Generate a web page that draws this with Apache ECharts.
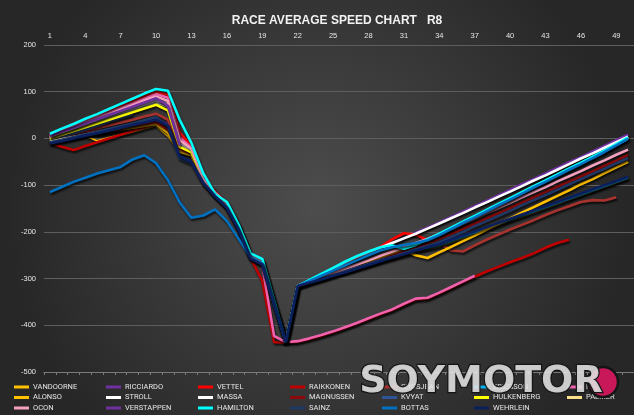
<!DOCTYPE html>
<html><head><meta charset="utf-8">
<script src="https://cdn.jsdelivr.net/npm/echarts@6/dist/echarts.min.js"></script>
<style>html,body{margin:0;padding:0;background:#333;}#c{width:634px;height:415px;}</style>
</head><body><div id="c"></div>
<script>
const laps = ['1','2','3','4','5','6','7','8','9','10','11','12','13','14','15','16','17','18','19','20','21','22','23','24','25','26','27','28','29','30','31','32','33','34','35','36','37','38','39','40','41','42','43','44','45','46','47','48','49','50'];
const yTicks = [-500, 200, 100];

const vandoorne = [-2,3,7,5,-5,2,8,14,21,27,5,-30,-38,-94,-123,-148,-194,-256,-269,-355,-436,-316,-309,-302,-294,-287,-280,-273,-265,-258,-251,-244,-237,-232,-223,-214,-205,-196,-187,-177,-168,-159,-150,-141,-131,-122,-113,-104,-95,-86];
const ricciardo = [2,8,14,19,8,12,19,27,35,42,30,-20,-35,-91,-120,-145,-192,-253,-266,-352,-436,-316,-305,-293,-281,-269,-257,-246,-235,-224,-213,-202,-191,-180,-168,-157,-145,-134,-122,-110,-98,-87,-75,-63,-51,-40,-28,-16,-4,8];
const vettel = [8,18,28,38,48,59,69,79,90,100,94,12,-16,-84,-114,-139,-186,-248,-262,-352,-436,-316,-305,-293,-281,-269,-257,-245,-232,-216,-203,-206,-218,-206,-193,-180,-168,-155,-142,-130,-117,-104,-92,-79,-66,-54,-41,-28,-14,0];
const raikkonen = [-10,-18,-25,-16,-8,0,8,16,24,32,16,-26,-36,-92,-122,-147,-194,-255,-305,-436,-437,-436,-430,-423,-415,-406,-397,-387,-377,-368,-356,-345,-343,-332,-320,-308,-296,-285,-275,-265,-256,-246,-234,-224,-217,null,null,null,null,null];
const grosjean = [-3,3,9,15,22,28,34,40,47,53,40,-15,-26,-89,-118,-143,-190,-251,-265,-352,-436,-316,-308,-300,-292,-284,-276,-268,-260,-252,-244,-237,-230,-224,-240,-242,-229,-217,-206,-195,-185,-175,-164,-154,-145,-136,-132,-133,-126,null];
const ericsson = [-9,-4,1,7,12,17,22,28,33,38,22,-25,-30,-90,-120,-145,-192,-253,-267,-353,-436,-316,-309,-301,-293,-286,-278,-270,-262,-255,-247,-240,-234,-228,-219,-210,-201,-192,-183,-174,-165,-156,-147,-138,-129,-120,-111,-102,-93,-84];
const perez = [6,16,26,36,46,55,65,75,85,95,87,2,-20,-86,-117,-141,-188,-250,-272,-423,-436,-434,-428,-421,-413,-404,-395,-385,-375,-366,-354,-343,-341,-330,-318,-306,-294,null,null,null,null,null,null,null,null,null,null,null,null,null];
const alonso = [-4,0,4,8,12,15,19,23,27,31,12,-28,-36,-93,-122,-147,-193,-255,-268,-354,-436,-316,-308,-300,-292,-284,-275,-266,-257,-248,-240,-250,-256,-244,-232,-220,-208,-195,-183,-171,-159,-147,-135,-123,-111,-98,-87,-74,-62,-50];
const stroll = [-1,8,17,26,35,43,52,61,70,78,68,-12,-28,-89,-119,-143,-191,-252,-265,-351,-436,-316,-305,-292,-279,-266,-254,-244,-234,-224,-214,-204,-193,-182,-171,-160,-148,-137,-125,-114,-102,-90,-79,-67,-55,-43,-32,-20,-8,4];
const massa = [2,11,20,29,38,47,56,64,73,82,74,-8,-25,-88,-118,-142,-190,-251,-264,-350,-436,-316,-306,-296,null,null,null,null,null,null,null,null,null,null,null,null,null,null,null,null,null,null,null,null,null,null,null,null,null,null];
const magnussen = [-6,0,5,10,14,18,23,27,31,35,20,-22,-32,-92,-121,-146,-193,-254,-267,-353,-436,-316,-308,-300,-292,-284,-276,-268,-260,-251,-242,-234,-225,-215,-204,-193,-182,-171,-160,-149,-137,-126,-114,-103,-92,-81,-70,-58,-47,-35];
const kvyat = [-5,3,11,19,27,36,44,52,null,null,null,null,null,null,null,null,null,null,null,null,null,null,null,null,null,null,null,null,null,null,null,null,null,null,null,null,null,null,null,null,null,null,null,null,null,null,null,null,null,null];
const hulkenberg = [0,8,16,24,32,40,48,56,64,72,60,-18,-30,-90,-121,-144,-191,-252,-266,-352,-436,-316,-308,null,null,null,null,null,null,null,null,null,null,null,null,null,null,null,null,null,null,null,null,null,null,null,null,null,null,null];
const palmer = [-7,-2,3,8,13,18,23,null,null,null,null,null,null,null,null,null,null,null,null,null,null,null,null,null,null,null,null,null,null,null,null,null,null,null,null,null,null,null,null,null,null,null,null,null,null,null,null,null,null,null];
const ocon = [4,14,23,33,42,52,62,71,81,90,80,-4,-22,-87,-116,-140,-188,-250,-264,-352,-436,-316,-307,-298,-289,-279,-270,-261,-251,-242,-233,-224,-215,-205,-194,-183,-172,-160,-149,-138,-126,-115,-104,-92,-81,-70,-58,-47,-35,-24];
const verstappen = [5,14,23,32,41,50,59,68,77,86,70,-15,null,null,null,null,null,null,null,null,null,null,null,null,null,null,null,null,null,null,null,null,null,null,null,null,null,null,null,null,null,null,null,null,null,null,null,null,null,null];
const hamilton = [10,21,31,42,52,63,74,85,96,106,102,40,-10,-75,-119,-136,-185,-246,-258,-347,-436,-316,-303,-290,-277,-264,-252,-242,-233,-229,-236,-228,-216,-204,-191,-178,-166,-153,-140,-128,-115,-102,-90,-77,-64,-52,-39,-26,-12,2];
const sainz = [-8,-3,3,9,14,20,26,32,39,46,25,-43,-54,-96,-124,-148,-195,-256,-268,-355,-436,-316,-308,-300,-293,-285,-277,-269,-261,-254,-246,-238,-230,-222,-211,-200,-188,-177,-166,-155,-143,-132,-121,-110,-98,-87,-76,-65,-53,-42];
const bottas = [-115,-104,-93,-84,-75,-68,-61,-45,-36,-53,-89,-137,-170,-165,-152,-177,-215,-254,-268,-354,-436,-316,-305,-294,-283,-272,-261,-250,-240,-233,-228,-224,-218,-207,-194,-181,-169,-156,-143,-131,-118,-105,-93,-80,-67,-55,-42,-29,-15,-1];
const wehrlein = [-11,-6,0,6,11,17,23,29,34,40,28,-38,-50,-95,-124,-149,-196,-257,-270,-356,-436,-316,-309,-302,-294,-287,-279,-271,-263,-255,-248,-240,-233,-226,-217,-208,-199,-190,-181,-172,-163,-154,-145,-136,-127,-118,-109,-100,-91,-82];

const drivers = [
  ['VANDOORNE', vandoorne, '#FFC000', 1.6],
  ['RICCIARDO', ricciardo, '#7030A0', 2.6],
  ['VETTEL', vettel, '#FF0000', 2.6],
  ['RAIKKONEN', raikkonen, '#C00000', 2.6],
  ['GROSJEAN', grosjean, '#A8322E', 2.6],
  ['ERICSSON', ericsson, '#00B0F0', 2.6],
  ['PEREZ', perez, '#F062AE', 2.6],
  ['ALONSO', alonso, '#FFC000', 2.6],
  ['STROLL', stroll, '#FFFFFF', 2.6],
  ['MASSA', massa, '#FFFFFF', 2.6],
  ['MAGNUSSEN', magnussen, '#8E0A0A', 2.6],
  ['KVYAT', kvyat, '#2F5597', 2.6],
  ['HULKENBERG', hulkenberg, '#FFFF00', 2.6],
  ['PALMER', palmer, '#FFE08A', 2.6],
  ['OCON', ocon, '#F7A1C0', 2.6],
  ['VERSTAPPEN', verstappen, '#7030A0', 2.6],
  ['HAMILTON', hamilton, '#00FFFF', 2.6],
  ['SAINZ', sainz, '#203864', 2.6],
  ['BOTTAS', bottas, '#0070C0', 2.6],
  ['WEHRLEIN', wehrlein, '#0A1F5C', 2.6]
];

const series = drivers.map(d => ({
  name: d[0], type: 'line', data: d[1], xAxisIndex: 0, yAxisIndex: 0,
  showSymbol: false, symbol: 'none', connectNulls: false,
  lineStyle: { color: d[2], width: d[3], shadowColor: 'rgba(0,0,0,0.75)', shadowBlur: 2, shadowOffsetX: 1, shadowOffsetY: 2 },
  itemStyle: { color: d[2] },
  emphasis: { disabled: true }, animation: false
}));

const cols = [
  ['VANDOORNE','ALONSO','OCON'],
  ['RICCIARDO','STROLL','VERSTAPPEN'],
  ['VETTEL','MASSA','HAMILTON'],
  ['RAIKKONEN','MAGNUSSEN','SAINZ'],
  ['GROSJEAN','KVYAT','BOTTAS'],
  ['ERICSSON','HULKENBERG','WEHRLEIN'],
  ['PEREZ','PALMER']
];
const colX = [14, 106, 198, 290, 382, 474, 567];
const legends = cols.map((c, i) => ({
  data: c, orient: 'vertical', left: colX[i], top: 382, height: 40, padding: 0, itemGap: 0.5,
  itemWidth: 15, itemHeight: 3, icon: 'rect', selectedMode: false,
  textStyle: { color: '#e6e6e6', fontSize: 7.5, fontFamily: 'Roboto', padding: [0,0,0,-1], lineHeight: 10 }
}));

const chart = echarts.init(document.getElementById('c'), null, { renderer: 'canvas' });
chart.setOption({
  animation: false,
  backgroundColor: { type: 'radial', x: 0.5, y: 0.5, r: 0.75,
    colorStops: [{ offset: 0, color: '#4d4d4d' }, { offset: 1, color: '#272727' }] },
  title: { text: 'RACE AVERAGE SPEED CHART   R8', left: 332, textAlign: 'center', top: 10,
    textStyle: { color: '#f2f2f2', fontSize: 12, fontWeight: 'bold', fontFamily: 'Liberation Sans' } },
  legend: legends,
  grid: { left: 44, right: 0, top: 45, bottom: 43, containLabel: false },
  xAxis: [
    { type: 'category', data: laps, position: 'top', boundaryGap: true,
      axisLine: { show: false }, axisTick: { show: false }, splitLine: { show: false },
      axisLabel: { interval: 2, color: '#e6e6e6', fontSize: 7.5, fontFamily: 'Liberation Sans', margin: 5 } },
    { type: 'category', data: laps, position: 'bottom', boundaryGap: true,
      axisLine: { show: true, onZero: true, lineStyle: { color: '#7a7a7a', width: 1 } },
      axisTick: { show: true, interval: 0, length: 3, lineStyle: { color: '#7a7a7a' } },
      axisLabel: { show: false }, splitLine: { show: false } }
  ],
  yAxis: { type: 'value', min: yTicks[0], max: yTicks[1], interval: yTicks[2],
    axisLine: { show: false }, axisTick: { show: false },
    axisLabel: { color: '#e6e6e6', fontSize: 7.5, fontFamily: 'Liberation Sans', margin: 8 },
    splitLine: { lineStyle: { color: '#5e5e5e', width: 1 } } },
  series: series,
  graphic: [
    { type: 'text', left: 358, top: 362, z: 100,
      style: { text: 'SOYMOTOR', font: 'bold 38px "DejaVu Sans"', fill: 'rgba(228,228,228,0.88)', stroke: '#151515', lineWidth: 2.5 } },
    { type: 'circle', shape: { cx: 603, cy: 382, r: 15 }, z: 99,
      style: { fill: '#c8185a', stroke: '#151515', lineWidth: 2.5 } }
  ]
});
</script></body></html>
